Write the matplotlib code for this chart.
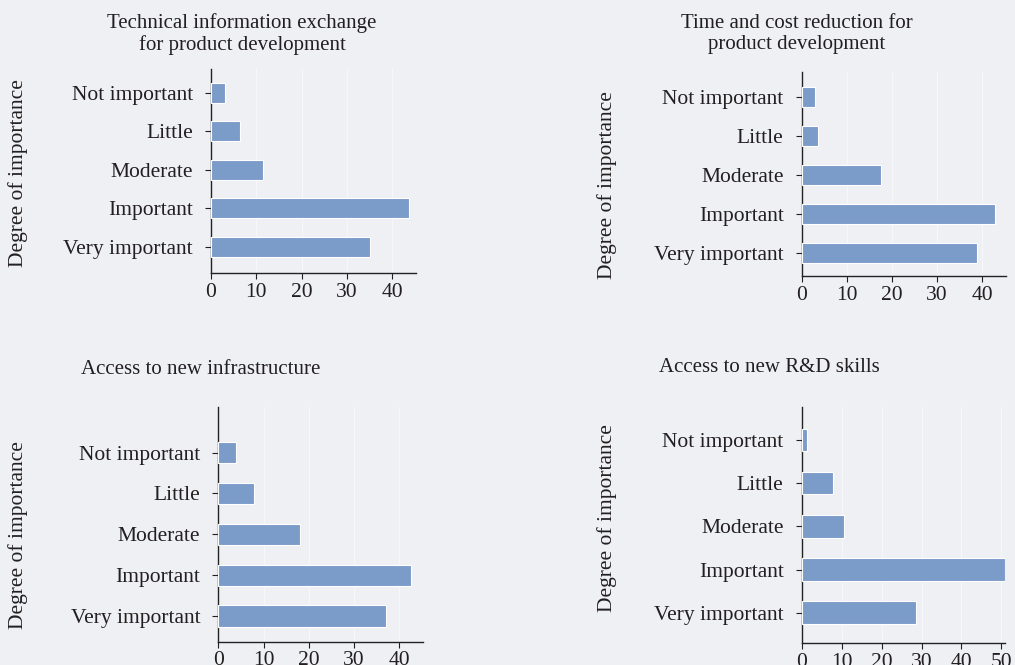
import numpy as np
import matplotlib
matplotlib.use("Agg")
import matplotlib.pyplot as plt

# survey answers (percent of respondents)
categories = ["Not important", "Little", "Moderate", "Important", "Very important"]
tech_info = [3.0, 6.5, 11.5, 43.8, 35.2]
time_cost = [2.9, 3.7, 17.5, 42.9, 38.9]
infrastructure = [3.9, 7.9, 18.0, 42.6, 37.1]
rd_skills = [1.4, 7.8, 10.7, 50.8, 28.6]

titles = ["Technical information exchange\nfor product development",
          "Time and cost reduction for\nproduct development",
          "Access to new infrastructure",
          "Access to new R&D skills"]
x_ticks_40 = [0, 10, 20, 30, 40]
x_ticks_50 = [0, 10, 20, 30, 40, 50]

BG = "#eef0f4"
BAR = "#7b9bc9"
TXT = "#231f20"
W, H = 1015, 665

plt.rcParams['font.family'] = ['Liberation Serif', 'DejaVu Serif']
plt.rcParams['text.color'] = TXT
plt.rcParams['xtick.color'] = TXT
plt.rcParams['ytick.color'] = TXT

fig = plt.figure(figsize=(W / 100, H / 100), dpi=100, facecolor=BG)


def px_axes(left, top, right, bottom):
    return fig.add_axes([left / W, 1 - bottom / H, (right - left) / W, (bottom - top) / H])


def panel(box, values, xmax, ticks, top_pad, bot_pad):
    ax = px_axes(*box)
    ax.set_facecolor(BG)
    y = np.arange(len(categories))
    ax.barh(y, values, height=0.52, color=BAR, edgecolor="white", linewidth=0.8, zorder=3)
    ax.set_yticks(y)
    ax.set_yticklabels(categories, fontsize=15.5)
    ax.set_ylim(len(categories) - 1 + bot_pad, -top_pad)
    ax.set_xlim(0, xmax)
    ax.set_xticks(ticks)
    ax.tick_params(axis="x", labelsize=15.5, length=4, width=0.8, pad=3)
    ax.tick_params(axis="y", length=4, width=0.8, pad=9)
    ax.grid(axis="x", color="#f6f7fa", linewidth=0.8, zorder=0)
    for s in ["top", "right"]:
        ax.spines[s].set_visible(False)
    for s in ["left", "bottom"]:
        ax.spines[s].set_color("#222222")
        ax.spines[s].set_linewidth(1.0)
    return ax


panel((211, 69, 416, 273), tech_info, 45.3, x_ticks_40, 0.62, 0.68)
panel((801.7, 71.7, 1006, 276), time_cost, 45.3, x_ticks_40, 0.64, 0.58)
panel((218.3, 407.3, 422.7, 641.7), infrastructure, 45.2, x_ticks_40, 1.11, 0.63)
panel((801.7, 407.3, 1005, 643.3), rd_skills, 50.9, x_ticks_50, 0.76, 0.71)

# titles and y labels, placed in pixels
title_pos = [(242, 34), (797, 34), (201, 370), (769, 368)]
for t, (x, y) in zip(titles, title_pos):
    fig.text(x / W, 1 - y / H, t, ha="center", va="center", fontsize=15,
             linespacing=1.2)

ylabel_pos = [(18, 173), (607, 185), (18, 535), (607, 518)]
for x, y in ylabel_pos:
    fig.text(x / W, 1 - y / H, "Degree of importance", rotation=90,
             ha="center", va="center", fontsize=15.5)

fig.savefig("out.png", dpi=100, facecolor=BG)
